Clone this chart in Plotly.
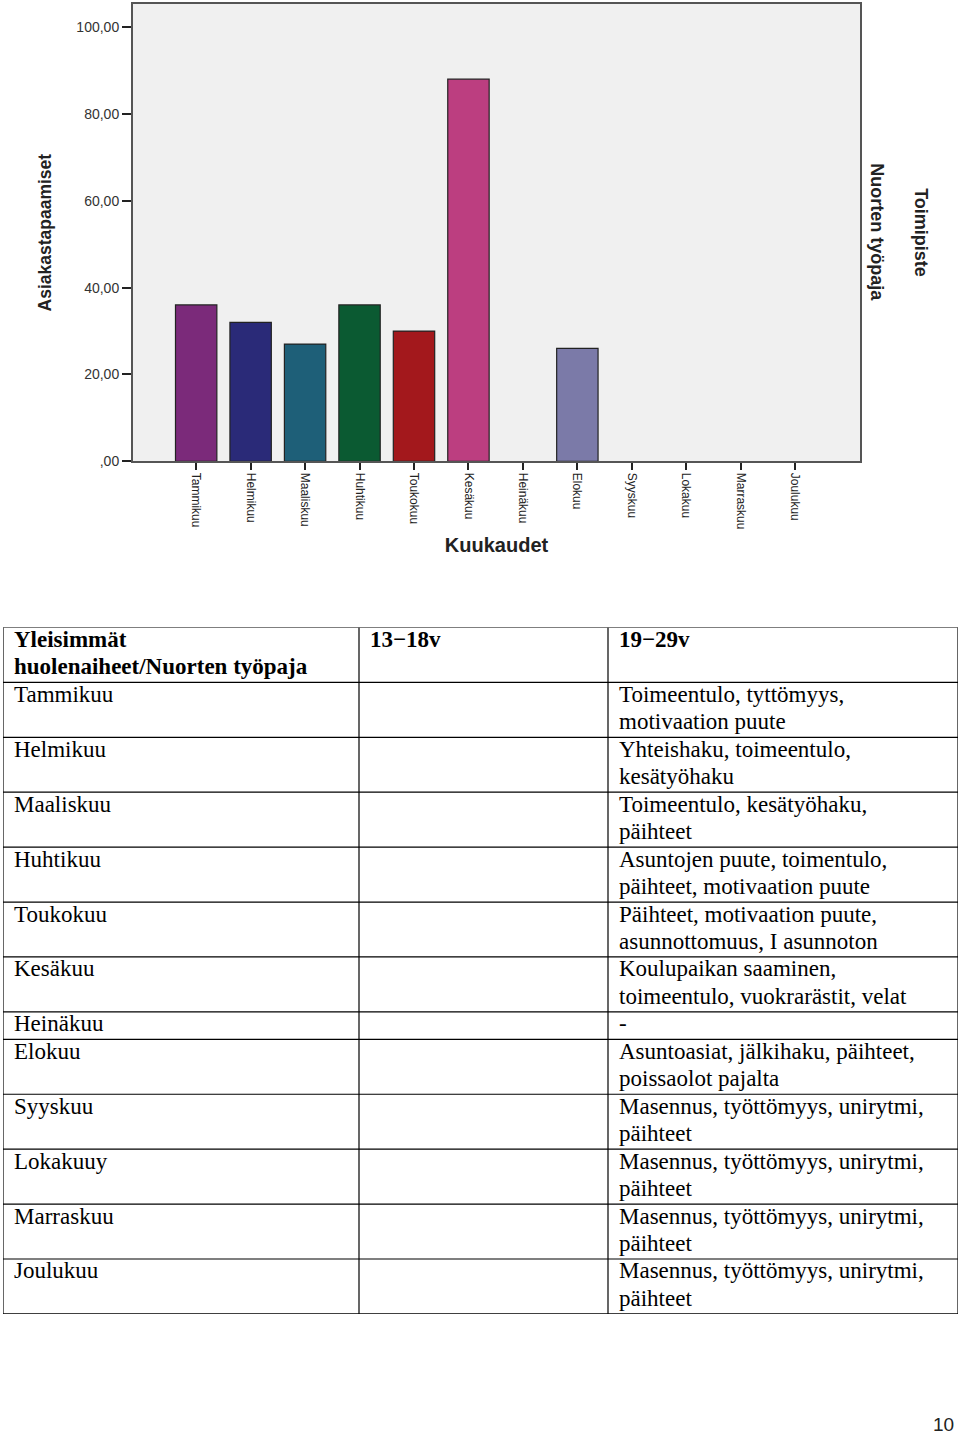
import plotly.graph_objects as go

# ---------------- data ----------------
months = ["Tammikuu", "Helmikuu", "Maaliskuu", "Huhtikuu", "Toukokuu", "Kesäkuu",
          "Heinäkuu", "Elokuu", "Syyskuu", "Lokakuu", "Marraskuu", "Joulukuu"]
visits = [36, 32, 27, 36, 30, 88, 0, 26, 0, 0, 0, 0]
bar_colors = ["#7b2a7a", "#2a2a78", "#1e5f78", "#0b5a32", "#a3181c", "#bc3e80",
              "#888888", "#7b7aa8", "#888888", "#888888", "#888888", "#888888"]
y_tickvals = [0, 20, 40, 60, 80, 100]
y_ticktext = [",00", "20,00", "40,00", "60,00", "80,00", "100,00"]

table_header = ["Yleisimmät<br>huolenaiheet/Nuorten työpaja", "13−18v", "19−29v"]
table_months = ["Tammikuu", "Helmikuu", "Maaliskuu", "Huhtikuu", "Toukokuu", "Kesäkuu",
                "Heinäkuu", "Elokuu", "Syyskuu", "Lokakuuy", "Marraskuu", "Joulukuu"]
table_13_18 = ["", "", "", "", "", "", "", "", "", "", "", ""]
table_19_29 = [
    "Toimeentulo, tyttömyys,<br>motivaation puute",
    "Yhteishaku, toimeentulo,<br>kesätyöhaku",
    "Toimeentulo, kesätyöhaku,<br>päihteet",
    "Asuntojen puute, toimentulo,<br>päihteet, motivaation puute",
    "Päihteet, motivaation puute,<br>asunnottomuus, I asunnoton",
    "Koulupaikan saaminen,<br>toimeentulo, vuokrarästit, velat",
    "-",
    "Asuntoasiat, jälkihaku, päihteet,<br>poissaolot pajalta",
    "Masennus, työttömyys, unirytmi,<br>päihteet",
    "Masennus, työttömyys, unirytmi,<br>päihteet",
    "Masennus, työttömyys, unirytmi,<br>päihteet",
    "Masennus, työttömyys, unirytmi,<br>päihteet",
]

# ---------------- layout constants ----------------
REF_W, REF_H = 960, 1433     # reference picture size (positions below are read in these pixels)
W, H = 960, 1442             # figure size (the captured page is fitted to 960x1433)


def px_x(x):
    return min(max(x / REF_W, 0), 1)


def px_y(y):
    return min(max(1 - y / REF_H, 0), 1)


col_widths = [356, 249, 350]
cell_pad = 11
serif = "Liberation Serif, Times New Roman, serif"
narrow = "Liberation Sans Narrow, Liberation Sans, Arial, sans-serif"
sans = "Liberation Sans, Arial, sans-serif"

fig = go.Figure()

# ---------------- bar chart ----------------
fig.add_trace(go.Bar(
    x=months, y=visits,
    marker=dict(color=bar_colors,
                line=dict(color="#222222", width=[1.2 if v > 0 else 0 for v in visits])),
    width=0.76,
    xaxis="x", yaxis="y",
    showlegend=False, hoverinfo="x+y",
))

# ---------------- table (drawn on its own axes) ----------------
rows = [table_header] + [list(r) for r in zip(table_months, table_13_18, table_19_29)]
row_lines = [max(len(c.split("<br>")) for c in r) for r in rows]
row_tops = [sum(row_lines[:i]) for i in range(len(rows))]
total_lines = sum(row_lines)
col_lefts = [sum(col_widths[:i]) for i in range(len(col_widths))]
total_w = sum(col_widths)

tx, ty, tt = [], [], []
for ri, r in enumerate(rows):
    for ci, cell in enumerate(r):
        if not cell:
            continue
        for li, line in enumerate(cell.split("<br>")):
            tx.append(col_lefts[ci] + cell_pad)
            ty.append(row_tops[ri] + li + 0.5)
            tt.append(f"<b>{line}</b>" if ri == 0 else line)

fig.add_trace(go.Scatter(
    x=tx, y=ty, text=tt, mode="text", textposition="middle right",
    textfont=dict(family=serif, size=23, color="black"),
    xaxis="x2", yaxis="y2", showlegend=False, hoverinfo="skip", cliponaxis=False,
))

shapes = [
    # grey plot background of the bar chart only
    dict(type="rect", xref="x domain", yref="y domain", x0=0, x1=1, y0=0, y1=1,
         fillcolor="#f0f0f0", line=dict(width=0), layer="below"),
]
for b in row_tops + [total_lines]:
    shapes.append(dict(type="line", xref="x2", yref="y2", x0=0, x1=total_w, y0=b, y1=b,
                       line=dict(color="black", width=1.2)))
for b in col_lefts + [total_w]:
    shapes.append(dict(type="line", xref="x2", yref="y2", x0=b, x1=b, y0=0, y1=total_lines,
                       line=dict(color="black", width=1.2)))

fig.update_layout(
    width=W, height=H,
    margin=dict(l=0, r=0, t=0, b=0),
    paper_bgcolor="white",
    plot_bgcolor="white",
    shapes=shapes,
    xaxis=dict(
        domain=[px_x(133), px_x(860)],
        anchor="y",
        range=[-1.16, 12.19],
        tickangle=90,
        ticks="outside", ticklen=7, tickcolor="#222222", tickwidth=1.5,
        tickfont=dict(family=sans, size=12, color="#222222"),
        showline=True, linecolor="#555555", linewidth=2, mirror=True,
        showgrid=False,
        title=dict(text="<b>Kuukaudet</b>",
                   font=dict(family=sans, size=20, color="#222222"),
                   standoff=10),
    ),
    yaxis=dict(
        domain=[px_y(461), px_y(4)],
        anchor="x",
        range=[0, 105.3],
        tickvals=y_tickvals, ticktext=y_ticktext,
        ticks="outside", ticklen=9, tickcolor="#222222", tickwidth=1.5,
        tickfont=dict(family=sans, size=14, color="#333333"),
        showline=True, linecolor="#555555", linewidth=2, mirror=True,
        showgrid=False, zeroline=False,
        title=dict(text="<b>Asiakastapaamiset</b>",
                   font=dict(family=narrow, size=17.5, color="#222222"),
                   standoff=20),
    ),
    xaxis2=dict(
        domain=[px_x(3), px_x(958)], anchor="y2",
        range=[0, total_w], visible=False, fixedrange=True,
    ),
    yaxis2=dict(
        domain=[px_y(1313), px_y(627)], anchor="x2",
        range=[total_lines, 0], visible=False, fixedrange=True,
    ),
    annotations=[
        dict(text="<b>Toimipiste</b>", x=px_x(921), y=px_y(232), xref="paper", yref="paper",
             xanchor="center", yanchor="middle", textangle=90, showarrow=False,
             font=dict(family=narrow, size=18, color="#222222")),
        dict(text="<b>Nuorten työpaja</b>", x=px_x(877), y=px_y(232), xref="paper", yref="paper",
             xanchor="center", yanchor="middle", textangle=90, showarrow=False,
             font=dict(family=narrow, size=18, color="#222222")),
        dict(text="10", x=px_x(943), y=px_y(1424), xref="paper", yref="paper",
             xanchor="center", yanchor="middle", showarrow=False,
             font=dict(family=sans, size=19, color="#222222")),
    ],
)

# remove the browser's default 8px body margin so the figure starts at the page corner
page_fix = (
    "var h=document.documentElement,b=document.body;"
    "h.style.margin='0';h.style.padding='0';"
    "b.style.margin='0';b.style.padding='0';"
)
fig.write_html("out.html", config={"displayModeBar": False}, post_script=page_fix)
